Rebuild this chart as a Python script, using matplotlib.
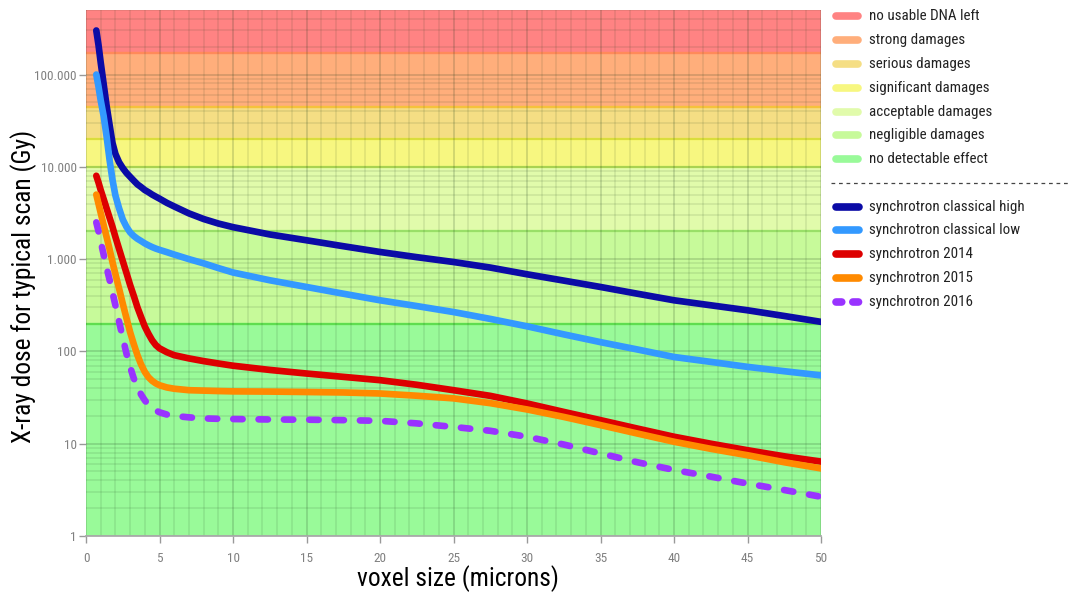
import matplotlib
matplotlib.use('Agg')
import matplotlib.pyplot as plt
from matplotlib import font_manager as fm
from matplotlib.lines import Line2D
from matplotlib.ticker import FixedLocator, LogLocator, MultipleLocator, NullFormatter

# ---------------- data ----------------
voxel = [0.7, 0.85, 1.0, 1.2, 1.4, 1.6, 1.8, 2.0,
         2.25, 2.5, 2.75, 3.0, 3.25, 3.5, 3.75, 4.0,
         4.25, 4.5, 4.75, 5.0, 5.5, 6.0, 7.0, 8.0, 9.0, 10.0,
         12.5, 15.0, 17.5, 20.0, 22.5, 25.0, 27.5, 30.0,
         32.5, 35.0, 37.5, 40.0, 42.5, 45.0, 47.5, 50.0]

classical_high = [300000, 209000, 135000, 79000, 46000, 28800, 18200, 13800,
                  11200, 9700, 8600, 7800, 7080, 6450, 6030, 5600,
                  5310, 5000, 4750, 4520, 4070, 3720, 3130, 2720, 2430, 2220,
                  1850, 1600, 1380, 1195, 1050, 930, 810, 685,
                  585, 499, 422, 358, 316, 279, 242, 209]
classical_low = [100000, 74000, 52500, 35500, 21400, 12000, 7240, 4900,
                 3550, 2690, 2240, 1950, 1780, 1660, 1570, 1480,
                 1410, 1350, 1300, 1260, 1190, 1120, 1000, 900, 800, 716,
                 590, 499, 422, 358, 310, 267, 225, 187,
                 153, 126, 105, 87, 77, 68, 61, 55]
sync_2014 = [8000, 6760, 5600, 4470, 3550, 2820, 2240, 1740,
             1290, 955, 710, 525, 400, 300, 235, 186,
             155, 132, 117, 108, 98, 91, 84, 78.5, 74, 70,
             63, 57.6, 53, 48.8, 43.5, 38, 33, 27.3,
             22.1, 18, 14.6, 11.9, 10, 8.5, 7.3, 6.4]
sync_2015 = [5000, 3980, 3160, 2340, 1740, 1290, 930, 690,
             480, 330, 230, 162, 120, 91, 72, 60,
             52.5, 48, 45, 43, 40.7, 39.4, 38, 37.6, 37.2, 36.9,
             36.7, 36.3, 35.9, 35, 33.1, 31, 27.5, 23.5,
             19.5, 15.9, 12.9, 10.5, 8.8, 7.5, 6.3, 5.4]
sync_2016 = [2500, 2000, 1550, 1120, 810, 600, 435, 316,
             210, 141, 95, 68, 51, 41, 34, 29.5,
             26.3, 24.3, 22.9, 21.9, 20.7, 20, 19.3, 18.8, 18.6, 18.5,
             18.3, 18.2, 18, 17.7, 16.6, 15.2, 13.8, 11.9,
             9.8, 7.85, 6.3, 5.2, 4.4, 3.7, 3.15, 2.66]

series_names = ['synchrotron classical high', 'synchrotron classical low',
                'synchrotron 2014', 'synchrotron 2015', 'synchrotron 2016']
series_values = [classical_high, classical_low, sync_2014, sync_2015, sync_2016]
series_colors = ['#0b0ba6', '#3399ff', '#dd0000', '#ff8a00', '#9933ff']

band_names = ['no usable DNA left', 'strong damages', 'serious damages',
              'significant damages', 'acceptable damages', 'negligible damages',
              'no detectable effect']
band_low = [170000, 45000, 20000, 10000, 2000, 200, 1]
band_high = [500000, 170000, 45000, 20000, 10000, 2000, 200]
band_fill = ['#ff8383', '#ffae7b', '#f5de84', '#f7f780', '#e1fbab', '#c7fa9a', '#99fa99']
band_edge = ['#ff7070', '#ff8a5a', '#f5c23c', '#eeee40', '#c6f05c', '#a6f070', '#66ee55']

x_ticks = [0, 5, 10, 15, 20, 25, 30, 35, 40, 45, 50]
y_ticks = [1, 10, 100, 1000, 10000, 100000]
y_tick_labels = ['1', '10', '100', '1.000', '10.000', '100.000']

# ---------------- fonts ----------------
names = {f.name for f in fm.fontManager.ttflist}
cond_family = None
for cand in ['Roboto Condensed', 'Liberation Sans Narrow', 'Open Sans Condensed']:
    if cand in names:
        cond_family = cand
        break
if cond_family is None:
    font_kw = dict(family='DejaVu Sans', stretch='condensed')
else:
    font_kw = dict(family=cond_family)

# ---------------- figure ----------------
W, H = 1073, 594
fig = plt.figure(figsize=(W / 100, H / 100), dpi=100)
ax = fig.add_axes([86 / W, (H - 536) / H, (821 - 86) / W, (536 - 10) / H])
ax.set_yscale('log')
ax.set_xlim(0, 50)
ax.set_ylim(1, 500000)

for lo, hi, fc, ec in zip(band_low, band_high, band_fill, band_edge):
    ax.axhspan(lo, hi, facecolor=fc, edgecolor='none', zorder=0.1)
    if hi < 500000:
        ax.axhline(hi, color=ec, lw=1.7, zorder=0.3)

ax.xaxis.set_major_locator(FixedLocator(x_ticks))
ax.xaxis.set_minor_locator(MultipleLocator(1))
ax.yaxis.set_major_locator(FixedLocator(y_ticks))
ax.yaxis.set_minor_locator(LogLocator(base=10, subs=[2, 3, 4, 5, 6, 7, 8, 9], numticks=20))
ax.yaxis.set_minor_formatter(NullFormatter())
ax.set_yticklabels(y_tick_labels)
ax.set_axisbelow(True)
ax.grid(which='major', color='#1a3a1a', alpha=0.17, lw=1.4, zorder=0.5)
ax.grid(which='minor', color='#1a3a1a', alpha=0.11, lw=1.2, zorder=0.5)

for name, vals, col in zip(series_names, series_values, series_colors):
    ls = (0, (1.4, 2.4)) if name.endswith('2016') else '-'
    ax.plot(voxel, vals, color=col, lw=4.8, ls=ls, solid_capstyle='round',
            dash_capstyle='round', solid_joinstyle='round', zorder=3)

for s in ['top', 'right', 'left']:
    ax.spines[s].set_visible(False)
ax.spines['bottom'].set_color('#aaaaaa')
ax.spines['bottom'].set_linewidth(1.3)
ax.tick_params(which='minor', length=0)
ax.tick_params(axis='x', which='major', length=5, width=1, color='#999999',
               labelcolor='#808080', labelsize=9.5, pad=6.5)
ax.tick_params(axis='y', which='major', length=5, width=1, color='#999999',
               labelcolor='#808080', labelsize=9.5, pad=1.5)
for lab in ax.get_xticklabels() + ax.get_yticklabels():
    lab.set(**font_kw)

fig.text(24 / W, 1 - 286 / H, 'X-ray dose for typical scan (Gy)', rotation=90,
         ha='center', va='center', fontsize=18.3, color='black', **font_kw)
fig.text(458 / W, 1 - 579 / H, 'voxel size (microns)', ha='center', va='center',
         fontsize=18.3, color='black', **font_kw)

# ---------------- legend ----------------
def fx(px):
    return px / W

def fy(py):
    return 1 - py / H

band_rows = [16, 40, 64, 88, 112, 135, 159]
series_rows = [207, 230, 254, 278, 302]
for name, col, row in zip(band_names, band_fill, band_rows):
    fig.add_artist(Line2D([fx(836), fx(858)], [fy(row), fy(row)], color=col, lw=5.5,
                          solid_capstyle='round', transform=fig.transFigure))
    fig.text(fx(869), fy(row), name, ha='left', va='center', fontsize=10.8,
             color='#222222', **font_kw)
fig.add_artist(Line2D([fx(831), fx(1070)], [fy(183), fy(183)], color='#444444', lw=0.9,
                      ls=(0, (3, 3)), transform=fig.transFigure))
for name, col, row in zip(series_names, series_colors, series_rows):
    ls = (0, (0.75, 1.45)) if name.endswith('2016') else '-'
    fig.add_artist(Line2D([fx(836), fx(858.5)], [fy(row), fy(row)], color=col, lw=5.5,
                          ls=ls, solid_capstyle='round', dash_capstyle='round',
                          transform=fig.transFigure))
    fig.text(fx(869), fy(row), name, ha='left', va='center', fontsize=10.8,
             color='#222222', **font_kw)

fig.savefig('out.png', dpi=100)
